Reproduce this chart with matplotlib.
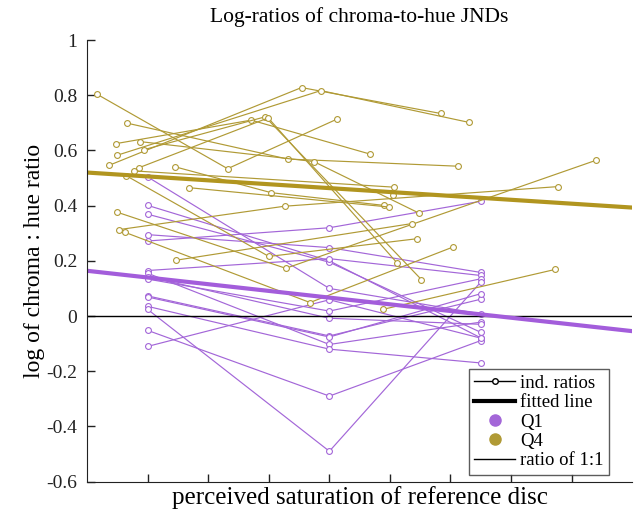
import matplotlib
matplotlib.use("Agg")
import matplotlib.pyplot as plt
from matplotlib.lines import Line2D

plt.rcParams['font.family'] = ['Liberation Serif', 'DejaVu Serif']
plt.rcParams['axes.unicode_minus'] = False

# Q1 individual ratios (all at the same three saturation levels)
q1_x = [1, 4, 6.5]
q1_y = [
    [0.504, 0.100, 0.008],
    [0.401, 0.200, -0.079],
    [0.369, 0.195, -0.059],
    [0.272, 0.320, 0.416],
    [0.295, 0.248, 0.158],
    [0.165, 0.208, 0.147],
    [0.155, -0.103, -0.022],
    [0.143, -0.008, -0.030],
    [0.134, 0.018, 0.135],
    [0.073, -0.072, 0.061],
    [0.069, -0.076, 0.081],
    [0.035, -0.120, -0.170],
    [0.024, -0.490, 0.123],
    [-0.052, -0.290, -0.089],
    [-0.110, 0.059, -0.080],
]

# Q4 individual ratios (perceived saturation differs per observer)
q4_x = [
    [0.17, 2.32, 4.12],
    [0.66, 3.31, 6.12],
    [0.88, 3.74, 5.48],
    [0.36, 3.54, 5.84],
    [0.50, 3.86, 6.30],
    [0.48, 2.71, 4.67],
    [0.94, 2.94, 5.52],
    [0.85, 2.99, 5.12],
    [0.50, 3.28, 8.41],
    [0.52, 3.26, 7.77],
    [1.45, 3.04, 4.90],
    [1.69, 4.99],
    [0.63, 3.68, 6.04],
    [1.46, 5.36],
    [0.65, 3.00, 5.44],
    [0.77, 5.07],
    [4.88, 7.73],
    [5.05],
]
q4_y = [
    [0.803, 0.534, 0.713],
    [0.699, 0.569, 0.543],
    [0.632, 0.560, 0.373],
    [0.546, 0.828, 0.734],
    [0.583, 0.817, 0.702],
    [0.625, 0.710, 0.587],
    [0.603, 0.722, 0.132],
    [0.537, 0.718, 0.192],
    [0.376, 0.173, 0.565],
    [0.313, 0.398, 0.469],
    [0.541, 0.447, 0.401],
    [0.465, 0.395],
    [0.303, 0.049, 0.250],
    [0.202, 0.335],
    [0.508, 0.216, 0.280],
    [0.526, 0.467],
    [0.024, 0.169],
    [0.440],
]

# fitted lines (intercept, slope)
fit_q1 = (0.164, -0.0243)
fit_q4 = (0.520, -0.0141)

c_q1 = '#a366d8'
c_q4 = '#b09a35'
c_q1_fit = '#a35ddb'
c_q4_fit = '#b1951f'

fig = plt.figure(figsize=(6.36, 5.14), dpi=100)
ax = fig.add_axes([0.137, 0.063, 0.857, 0.859])

for ys in q1_y:
    ax.plot(q1_x, ys, color=c_q1, lw=0.85, marker='o', ms=4.2,
            mfc='white', mec=c_q1, mew=0.8)
for xs, ys in zip(q4_x, q4_y):
    ax.plot(xs, ys, color=c_q4, lw=0.85, marker='o', ms=4.2,
            mfc='white', mec=c_q4, mew=0.8)

ax.axhline(0, color='black', lw=1)
xf = [0, 9]
ax.plot(xf, [fit_q4[0] + fit_q4[1] * v for v in xf], color=c_q4_fit, lw=3)
ax.plot(xf, [fit_q1[0] + fit_q1[1] * v for v in xf], color=c_q1_fit, lw=3)

ax.set_xlim(0, 9)
ax.set_ylim(-0.6, 1)
ax.set_xticks(range(1, 9))
ax.set_xticklabels([])
ax.set_yticks([-0.6, -0.4, -0.2, 0, 0.2, 0.4, 0.6, 0.8, 1])
ax.set_yticklabels(['-0.6', '-0.4', '-0.2', '0', '0.2', '0.4', '0.6', '0.8', '1'])
ax.tick_params(direction='in', length=6, width=1, labelsize=14, colors='#222222')
ax.tick_params(axis='y', pad=7)
for s in ['top', 'right']:
    ax.spines[s].set_visible(False)
for s in ['left', 'bottom']:
    ax.spines[s].set_color('#222222')

ax.set_title('Log-ratios of chroma-to-hue JNDs', fontsize=15.5, pad=13)
ax.set_ylabel('log of chroma : hue ratio', fontsize=17, labelpad=1)
ax.set_xlabel('perceived saturation of reference disc', fontsize=18, labelpad=0)

handles = [
    Line2D([], [], color='black', lw=1, marker='o', ms=4, mfc='white', mec='black'),
    Line2D([], [], color='black', lw=3),
    Line2D([], [], color=c_q1, lw=0, marker='o', ms=8),
    Line2D([], [], color=c_q4, lw=0, marker='o', ms=8),
    Line2D([], [], color='black', lw=1),
]
labels = ['ind. ratios', 'fitted line', 'Q1', 'Q4', 'ratio of 1:1']
leg = ax.legend(handles, labels, loc='lower right', bbox_to_anchor=(0.958, 0.015),
                fontsize=13.5, frameon=True, fancybox=False, edgecolor='#333333',
                handlelength=2.2, handletextpad=0.25, labelspacing=0.12,
                borderpad=0.3, borderaxespad=0)
leg.get_frame().set_linewidth(1)

fig.savefig('out.png', dpi=100)
